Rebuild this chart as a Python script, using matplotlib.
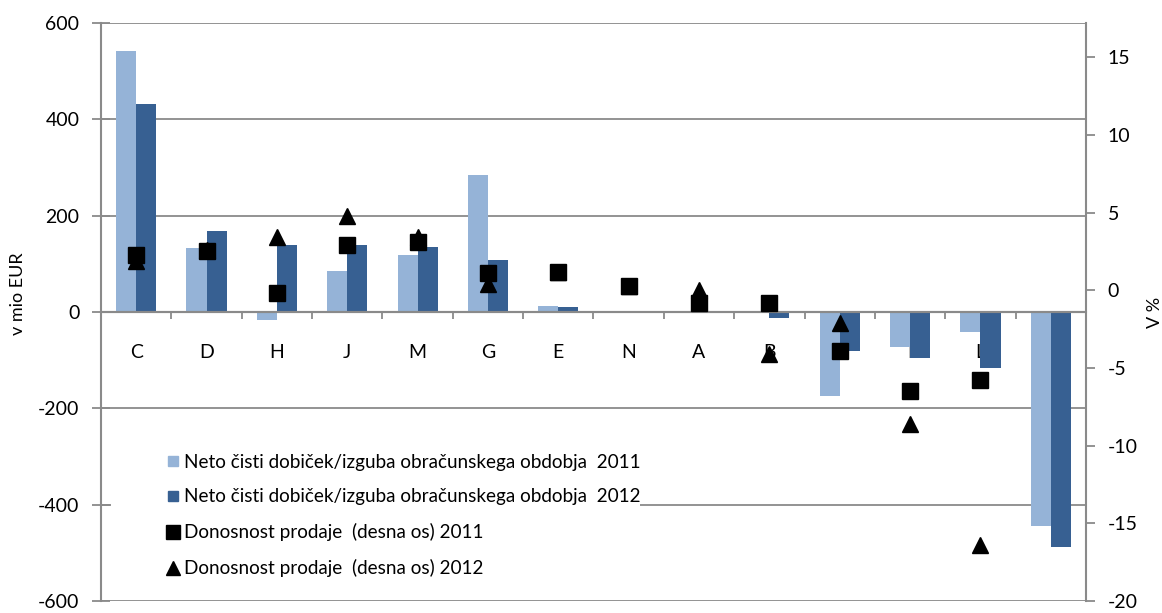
import numpy as np
import matplotlib
matplotlib.use("Agg")
import matplotlib.pyplot as plt
from matplotlib.lines import Line2D
from matplotlib.patches import Rectangle
from matplotlib.ticker import FixedLocator

plt.rcParams['font.family'] = ['Lato', 'DejaVu Sans']

categories = ["C", "D", "H", "J", "M", "G", "E", "N", "A", "B", "F", "I", "L", "K"]
profit_2011 = [542, 133, -16, 85, 118, 285, 12, 2, -2, -2, -174, -72, -41, -444]
profit_2012 = [432, 168, 139, 139, 135, 108, 10, 2, -2, -12, -82, -96, -116, -488]
ros_2011 = [2.3, 2.5, -0.2, 2.9, 3.1, 1.1, 1.2, 0.3, -0.8, -0.8, -3.9, -6.5, -5.8, np.nan]
ros_2012 = [1.9, 2.6, 3.4, 4.8, 3.4, 0.4, 1.2, 0.3, 0.0, -4.1, -2.1, -8.6, -16.4, np.nan]

labels = ["Neto čisti dobiček/izguba obračunskega obdobja  2011",
          "Neto čisti dobiček/izguba obračunskega obdobja  2012",
          "Donosnost prodaje  (desna os) 2011",
          "Donosnost prodaje  (desna os) 2012"]
left_ticks = [-600, -400, -200, 0, 200, 400, 600]
right_ticks = [-20, -15, -10, -5, 0, 5, 10, 15]

light = '#95B3D7'
dark = '#376092'
gray = '#8a8a8a'

W, H = 1162, 613
fig = plt.figure(figsize=(W / 100, H / 100), dpi=100)
ax = fig.add_axes([101 / W, 1 - 601 / H, (1086 - 101) / W, (601 - 23) / H])
ax2 = ax.twinx()

x = np.arange(len(categories))
bw = 0.285
ax.bar(x - bw / 2, profit_2011, bw, color=light, zorder=2)
ax.bar(x + bw / 2, profit_2012, bw, color=dark, zorder=2)

ax.set_xlim(-0.5, len(categories) - 0.5)
ax.set_ylim(-600, 600)
ax.set_yticks(left_ticks)
ax.set_yticklabels([str(v) for v in left_ticks], fontsize=14)
ax.yaxis.grid(True, color=gray, lw=1.3, zorder=0)
ax.set_axisbelow(True)
ax.axhline(0, color=gray, lw=1.5, zorder=3)

# white background of the legend area (covers gridlines)
ax.add_patch(Rectangle(((111 - 101) / 985, (601 - 596) / 578), (640 - 111) / 985, (596 - 416) / 578,
                       transform=ax.transAxes, facecolor='white', edgecolor='none', zorder=1))

for s in ['top', 'right']:
    ax.spines[s].set_visible(False)
ax.spines['bottom'].set_position(('data', 0))
ax.spines['bottom'].set_color(gray)
ax.spines['bottom'].set_linewidth(1.5)
ax.spines['bottom'].set_zorder(3)
ax.spines['left'].set_color(gray)
ax.spines['left'].set_linewidth(1.5)
ax.tick_params(axis='y', direction='inout', length=13, width=1.3, color=gray, pad=9)

ax.set_xticks(x)
ax.set_xticklabels(categories, fontsize=14)
ax.xaxis.set_minor_locator(FixedLocator(np.arange(0.5, len(categories) - 1, 1.0)))
ax.tick_params(axis='x', which='major', length=0, pad=23)
ax.tick_params(axis='x', which='minor', direction='out', length=5, width=1.3, color=gray)

ax2.plot(x, ros_2011, ls='none', marker='s', ms=11, color='black', zorder=5)
ax2.plot(x, ros_2012, ls='none', marker='^', ms=11, color='black', zorder=5)
ax2.set_ylim(-20, 17.2)
ax2.set_yticks(right_ticks)
ax2.set_yticklabels([str(v) for v in right_ticks], fontsize=14)
for s in ['top', 'left', 'bottom']:
    ax2.spines[s].set_visible(False)
ax2.spines['right'].set_color(gray)
ax2.spines['right'].set_linewidth(1.5)
ax2.tick_params(axis='y', direction='out', length=6.5, width=1.3, color=gray, pad=9)

handles = [
    Line2D([], [], ls='none', marker='s', ms=6.5, color=light),
    Line2D([], [], ls='none', marker='s', ms=6.5, color=dark),
    Line2D([], [], ls='none', marker='s', ms=9.5, color='black'),
    Line2D([], [], ls='none', marker='^', ms=9.5, color='black'),
]
leg = ax2.legend(handles, labels, loc='center left',
                 bbox_to_anchor=((166 - 101) / 985, (601 - 515.5) / 578),
                 frameon=False, fontsize=13.6, handlelength=0.7, handletextpad=0.25,
                 labelspacing=0.95, borderpad=0, borderaxespad=0)

fig.text(18 / W, 1 - 294 / H, "v mio EUR", rotation=90, ha='center', va='center', fontsize=13)
fig.text(1155 / W, 1 - 312 / H, "V %", rotation=90, ha='center', va='center', fontsize=13)

fig.savefig("out.png", dpi=100)
